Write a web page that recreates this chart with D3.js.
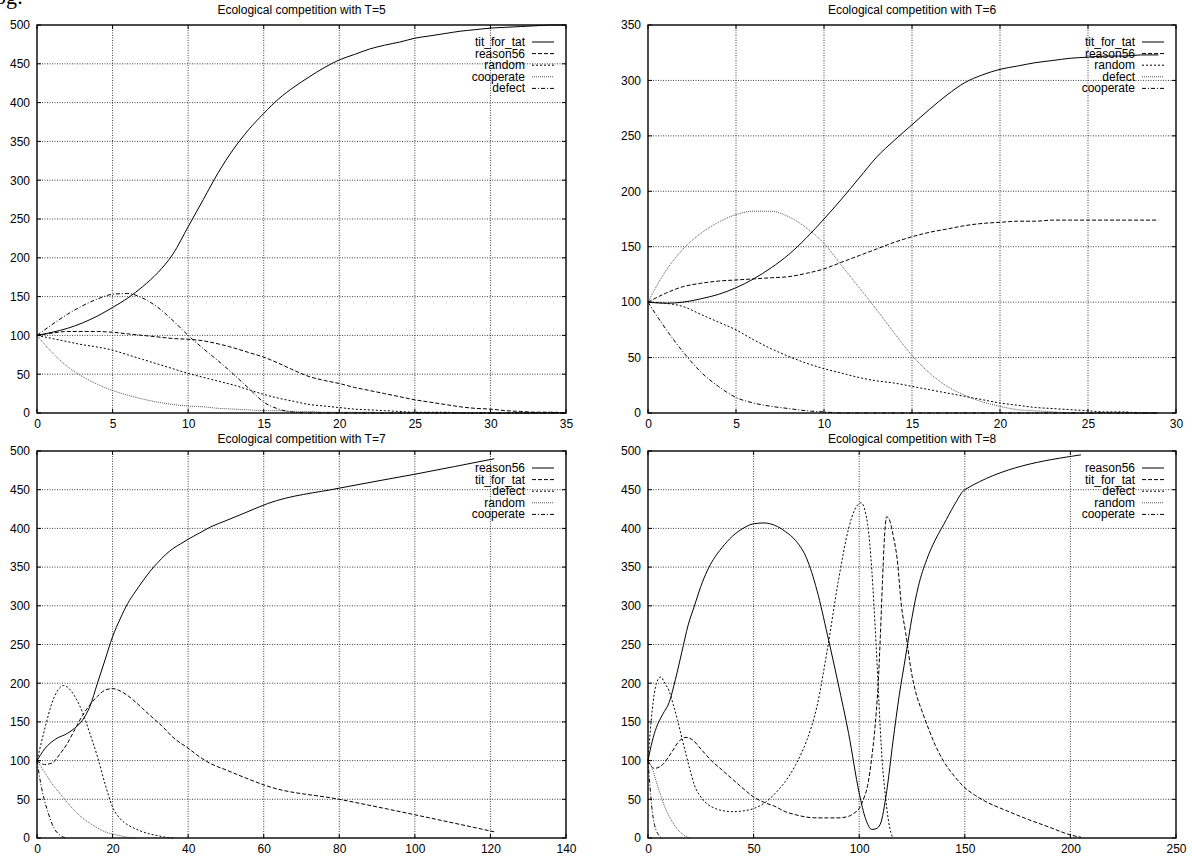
<!DOCTYPE html>
<html>
<head>
<meta charset="utf-8">
<script src="https://cdn.jsdelivr.net/npm/d3@7/dist/d3.min.js"></script>
<style>
body { margin: 0; background: #fff; }
svg text { font-family: "Liberation Sans", Arial, Helvetica, sans-serif; fill: #000; }
</style>
</head>
<body>
<div id="chart"></div>
<script>
// ---- T=5 ----
const t5Gen = [0,1,2,3,4,5,6,7,8,9,10,11,12,13,14,15,16,17,18,19,20,21,22,23,24,25,26,27,28,29,30,31,32,33,34,35];
const t5TitForTat = [100,104,109,116,125,136,148,163,181,205,240,275,310,340,365,386,405,420,433,445,455,462,469,474,478,483,486,489,492,494,496,497,498,499,500,500];
const t5Reason56 = [100,103,105,105,105,104,102,100,98,96,95,93,89,84,78,72,64,55,47,42,38,33,29,25,21,17,14,11,8,6,5,3,2,1,1,0];
const t5Random = [100,96,92,88,85,81,75,69,63,57,51,46,41,36,30,24,19,15,11,9,7,5,4,3,2,1,1,1,0,0,0,0,0,0,0,0];
const t5Cooperate = [100,78,60,47,37,29,23,18,14,11,9,8,6,5,4,3,3,2,2,1,1,1,1,0,0,0,0,0,0,0,0,0,0,0,0,0];
const t5Defect = [100,114,127,138,147,153,154,148,136,119,100,83,67,50,32,14,5,1,0,0,0,0,0,0,0,0,0,0,0,0,0,0,0,0,0,0];

// ---- T=6 ----
const t6Gen = [0,1,2,3,4,5,6,7,8,9,10,11,12,13,14,15,16,17,18,19,20,21,22,23,24,25,26,27,28,29];
const t6TitForTat = [100,99,100,103,107,113,121,131,143,158,175,193,212,231,246,260,274,287,298,305,310,313,316,318,320,321,322,322,323,323];
const t6Reason56 = [100,108,114,117,119,120,121,122,123,126,130,136,142,148,154,159,163,166,169,171,172,173,173,174,174,174,174,174,174,174];
const t6Random = [100,99,96,89,82,75,66,58,51,45,40,36,32,29,27,24,21,18,15,12,9,7,5,4,3,2,1,1,0,0];
const t6Defect = [100,128,148,162,172,179,182,182,177,167,153,133,113,93,72,52,36,24,16,10,6,3,2,1,0,0,0,0,0,0];
const t6Cooperate = [100,76,55,37,24,14,9,6,4,2,1,0,0,0,0,0,0,0,0,0,0,0,0,0,0,0,0,0,0,0];

// ---- T=7 ----
const t7Reason56Gen = [0,2,5,8,10,12,14,16,18,20,22,24,26,28,30,32,34,36,38,40,43,46,50,55,61,80,100,121];
const t7Reason56 = [100,115,128,135,142,152,170,200,230,260,283,303,318,332,345,356,366,374,380,386,394,402,410,420,432,452,470,490];
const t7TitForTatGen = [0,2,4,6,8,10,12,14,16,18,20,22,24,26,28,30,33,36,40,43,46,50,55,61,80,100,121];
const t7TitForTat = [100,95,97,108,122,140,158,172,183,191,193,190,184,176,167,158,145,130,116,105,96,88,78,67,50,30,8];
const t7DefectGen = [0,2,4,6,7,8,10,12,14,16,18,20,22,24,26,28,30,32,34,36];
const t7Defect = [100,140,175,194,197,195,183,163,135,105,70,40,25,17,12,8,5,3,1,0];
const t7RandomGen = [0,2,4,6,8,10,12,14,16,18,20,22,24,26];
const t7Random = [100,85,70,58,46,35,26,19,13,8,5,3,1,0];
const t7CooperateGen = [0,1,2,3,4,5,6,7,8];
const t7Cooperate = [100,70,48,32,18,9,4,1,0];

// ---- T=8 ----
const t8Reason56Gen = [0,2,4,7,10,13,16,19,22,25,28,31,35,40,45,50,55,60,65,70,75,80,85,90,95,100,103,106,108,110,113,116,119,122,125,128,132,136,140,145,150,205];
const t8Reason56 = [100,125,143,160,175,205,240,275,300,325,345,360,375,390,400,406,407,404,396,384,362,320,262,200,135,58,25,11,12,18,60,125,185,235,285,325,360,385,405,430,450,495];
const t8TitForTatGen = [0,3,7,11,15,18,21,25,30,35,40,45,50,55,60,65,70,75,80,85,90,95,98,100,102,104,106,108,109,110,111,112,113,114,115,116,118,120,122,125,127,130,133,136,140,145,150,155,160,170,180,190,200,205];
const t8TitForTat = [100,90,95,110,126,130,127,115,100,88,76,64,53,46,41,34,30,27,26,26,26,28,33,38,50,68,105,160,200,260,330,390,415,413,405,392,360,300,265,210,186,162,140,120,99,80,65,55,47,35,24,14,4,1];
const t8DefectGen = [0,2,4,6,8,10,12,14,16,18,20,22,25,28,32,36,40,45,50,55,60,65,70,75,80,85,90,95,98,101,103,104,105,106,107,108,109,110,111,112,113,114,115,116];
const t8Defect = [100,165,200,208,200,190,172,152,130,108,87,68,53,44,38,35,34,35,38,45,57,73,95,125,170,245,330,400,425,433,420,405,380,345,300,250,195,140,95,65,40,20,7,0];
const t8RandomGen = [0,2,4,6,8,10,12,14,16,18,20];
const t8Random = [100,90,72,55,40,28,19,11,6,2,0];
const t8CooperateGen = [0,1,2,3,4,5,6,7];
const t8Cooperate = [100,65,35,18,9,4,1,0];

// tick labels
const t5XTicks = [0,5,10,15,20,25,30,35];
const t6XTicks = [0,5,10,15,20,25,30];
const t7XTicks = [0,20,40,60,80,100,120,140];
const t8XTicks = [0,50,100,150,200,250];
const yTicks500 = [0,50,100,150,200,250,300,350,400,450,500];
const yTicks350 = [0,50,100,150,200,250,300,350];

// gnuplot line types 1..5
const dashFor = {1: null, 2: "4,2", 3: "2,2", 4: "1,1", 5: "4,2,1,2"};
const colorFor = {1: "#000", 2: "#000", 3: "#000", 4: "#555", 5: "#000"};

const panels = [
    {
        title: "Ecological competition with T=5", titleY: 14,
        box: {left: 37, top: 25, right: 566, bottom: 413},
        xTicks: t5XTicks, yTicks: yTicks500,
        series: [
            {name: "tit_for_tat", x: t5Gen, y: t5TitForTat, lt: 1},
            {name: "reason56", x: t5Gen, y: t5Reason56, lt: 2},
            {name: "random", x: t5Gen, y: t5Random, lt: 3},
            {name: "cooperate", x: t5Gen, y: t5Cooperate, lt: 4},
            {name: "defect", x: t5Gen, y: t5Defect, lt: 5}
        ]
    },
    {
        title: "Ecological competition with T=6", titleY: 14,
        box: {left: 648, top: 25, right: 1176, bottom: 413},
        xTicks: t6XTicks, yTicks: yTicks350,
        series: [
            {name: "tit_for_tat", x: t6Gen, y: t6TitForTat, lt: 1},
            {name: "reason56", x: t6Gen, y: t6Reason56, lt: 2},
            {name: "random", x: t6Gen, y: t6Random, lt: 3},
            {name: "defect", x: t6Gen, y: t6Defect, lt: 4},
            {name: "cooperate", x: t6Gen, y: t6Cooperate, lt: 5}
        ]
    },
    {
        title: "Ecological competition with T=7", titleY: 443,
        box: {left: 37, top: 451, right: 566, bottom: 838},
        xTicks: t7XTicks, yTicks: yTicks500,
        series: [
            {name: "reason56", x: t7Reason56Gen, y: t7Reason56, lt: 1},
            {name: "tit_for_tat", x: t7TitForTatGen, y: t7TitForTat, lt: 2},
            {name: "defect", x: t7DefectGen, y: t7Defect, lt: 3},
            {name: "random", x: t7RandomGen, y: t7Random, lt: 4},
            {name: "cooperate", x: t7CooperateGen, y: t7Cooperate, lt: 5}
        ]
    },
    {
        title: "Ecological competition with T=8", titleY: 443,
        box: {left: 648, top: 451, right: 1176, bottom: 838},
        xTicks: t8XTicks, yTicks: yTicks500,
        series: [
            {name: "reason56", x: t8Reason56Gen, y: t8Reason56, lt: 1},
            {name: "tit_for_tat", x: t8TitForTatGen, y: t8TitForTat, lt: 2},
            {name: "defect", x: t8DefectGen, y: t8Defect, lt: 3},
            {name: "random", x: t8RandomGen, y: t8Random, lt: 4},
            {name: "cooperate", x: t8CooperateGen, y: t8Cooperate, lt: 5}
        ]
    }
];

const svg = d3.select("#chart")
    .append("svg")
    .attr("width", 1192)
    .attr("height", 859);

// clipped caption text from the page above the figure
svg.append("text")
    .attr("x", -5)
    .attr("y", 4)
    .style("font-family", "'Liberation Serif', 'DejaVu Serif', serif")
    .style("font-size", "22px")
    .text("og:");

panels.forEach(p => {
    const b = p.box;
    const x = d3.scaleLinear()
        .domain([p.xTicks[0], p.xTicks[p.xTicks.length - 1]])
        .range([b.left, b.right]);
    const y = d3.scaleLinear()
        .domain([p.yTicks[0], p.yTicks[p.yTicks.length - 1]])
        .range([b.bottom, b.top]);

    const g = svg.append("g");

    // grid
    g.selectAll(".vgrid")
        .data(p.xTicks.slice(1, -1))
        .enter()
        .append("line")
        .attr("x1", d => x(d)).attr("x2", d => x(d))
        .attr("y1", b.top).attr("y2", b.bottom)
        .attr("stroke", "#111")
        .attr("stroke-width", 0.8)
        .attr("stroke-dasharray", "1,1.5");
    g.selectAll(".hgrid")
        .data(p.yTicks.slice(1, -1))
        .enter()
        .append("line")
        .attr("x1", b.left).attr("x2", b.right)
        .attr("y1", d => y(d)).attr("y2", d => y(d))
        .attr("stroke", "#111")
        .attr("stroke-width", 0.8)
        .attr("stroke-dasharray", "1,1.5");

    // tick labels
    const xAxis = g.append("g")
        .attr("transform", `translate(0,${b.bottom})`)
        .call(d3.axisBottom(x).tickValues(p.xTicks).tickSize(0).tickPadding(6));
    const yAxis = g.append("g")
        .attr("transform", `translate(${b.left},0)`)
        .call(d3.axisLeft(y).tickValues(p.yTicks).tickSize(0).tickPadding(7));
    [xAxis, yAxis].forEach(a => {
        a.select(".domain").remove();
        a.selectAll("text")
            .style("font-family", "'Liberation Sans', Arial, sans-serif")
            .style("font-size", "12px")
            .attr("fill", "#000");
    });

    // mirrored inward ticks
    const tl = 4;
    p.xTicks.forEach(v => {
        g.append("line").attr("x1", x(v)).attr("x2", x(v)).attr("y1", b.bottom).attr("y2", b.bottom - tl).attr("stroke", "#000");
        g.append("line").attr("x1", x(v)).attr("x2", x(v)).attr("y1", b.top).attr("y2", b.top + tl).attr("stroke", "#000");
    });
    p.yTicks.forEach(v => {
        g.append("line").attr("x1", b.left).attr("x2", b.left + tl).attr("y1", y(v)).attr("y2", y(v)).attr("stroke", "#000");
        g.append("line").attr("x1", b.right).attr("x2", b.right - tl).attr("y1", y(v)).attr("y2", y(v)).attr("stroke", "#000");
    });

    // series
    const line = d3.line()
        .x(d => x(d[0]))
        .y(d => y(d[1]))
        .curve(d3.curveMonotoneX);

    p.series.forEach(s => {
        g.append("path")
            .datum(d3.zip(s.x, s.y))
            .attr("d", line)
            .attr("fill", "none")
            .attr("stroke", colorFor[s.lt])
            .attr("stroke-width", 1)
            .attr("stroke-dasharray", dashFor[s.lt]);
    });

    // border
    g.append("rect")
        .attr("x", b.left).attr("y", b.top)
        .attr("width", b.right - b.left).attr("height", b.bottom - b.top)
        .attr("fill", "none")
        .attr("stroke", "#000")
        .attr("stroke-width", 1.4);

    // title
    g.append("text")
        .attr("x", (b.left + b.right) / 2)
        .attr("y", p.titleY)
        .attr("text-anchor", "middle")
        .style("font-size", "12px")
        .text(p.title);

    // legend
    p.series.forEach((s, i) => {
        const ly = b.top + 17 + i * 11.6;
        g.append("text")
            .attr("x", b.right - 41)
            .attr("y", ly + 4)
            .attr("text-anchor", "end")
            .style("font-size", "12px")
            .text(s.name);
        g.append("line")
            .attr("x1", b.right - 34).attr("x2", b.right - 12)
            .attr("y1", ly).attr("y2", ly)
            .attr("stroke", colorFor[s.lt])
            .attr("stroke-width", 1)
            .attr("stroke-dasharray", dashFor[s.lt]);
    });
});
</script>
</body>
</html>
